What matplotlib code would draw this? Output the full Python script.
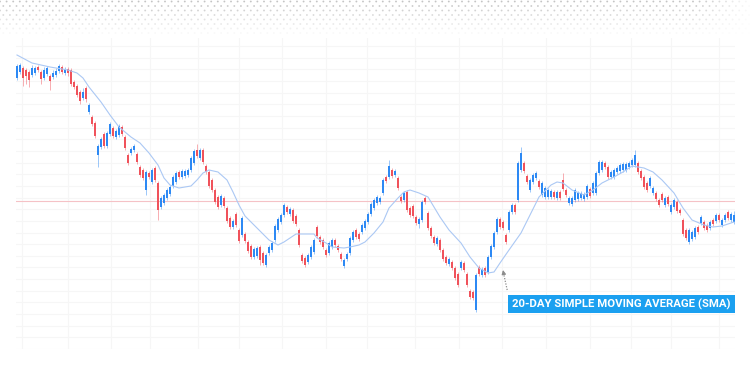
import matplotlib.pyplot as plt
import numpy as np
from matplotlib.patches import Rectangle

# daily candles (price units), 240 sessions
opens = [
    52.2, 52.8, 53.2, 53.0, 52.8, 52.5, 52.7, 53.3, 52.8, 52.2, 52.6, 52.4,
    52.3, 52.5, 52.9, 53.3, 52.7, 53.1, 53.0, 51.8, 51.4, 50.8, 50.2, 51.2,
    48.8, 48.3, 47.7, 44.5, 45.3, 46.6, 45.4, 46.6, 47.2, 46.3, 46.5, 47.3,
    46.3, 44.5, 44.7, 45.0, 44.6, 43.3, 43.0, 41.0, 42.7, 41.8, 43.2, 41.7,
    39.3, 39.7, 40.2, 40.6, 41.4, 41.8, 42.8, 42.3, 42.4, 42.5, 43.0, 43.7,
    45.0, 44.2, 45.0, 43.4, 42.8, 42.0, 41.0, 40.3, 39.5, 40.2, 39.2, 38.2,
    37.3, 38.6, 37.0, 36.5, 36.6, 35.8, 35.4, 34.3, 34.4, 35.3, 34.7, 33.5,
    34.7, 35.0, 36.0, 37.0, 37.8, 38.5, 39.3, 38.6, 39.0, 38.4, 37.0, 34.5,
    34.2, 33.8, 34.3, 34.8, 37.3, 36.3, 36.0, 35.0, 34.7, 35.3, 36.0, 35.4,
    34.6, 33.4, 34.1, 34.7, 36.0, 37.0, 36.6, 36.8, 37.2, 37.8, 38.6, 39.2,
    39.7, 39.8, 40.7, 42.3, 42.3, 43.0, 42.5, 42.2, 40.3, 40.0, 40.8, 39.2,
    39.4, 38.3, 37.6, 38.0, 40.2, 38.7, 37.2, 36.3, 35.6, 36.0, 35.0, 34.3,
    33.6, 33.8, 33.2, 32.6, 33.2, 33.7, 32.6, 30.9, 30.8, 29.0, 33.3, 32.5,
    33.2, 32.8, 34.3, 35.3, 36.8, 38.1, 37.8, 36.5, 37.0, 38.8, 39.5, 40.0,
    43.0, 43.7, 42.4, 41.0, 41.8, 42.2, 41.9, 40.5, 40.3, 40.3, 40.3, 40.8,
    40.2, 40.8, 42.0, 41.0, 39.7, 39.6, 40.0, 40.1, 40.2, 40.1, 40.3, 41.1,
    40.7, 40.7, 42.7, 43.0, 43.7, 43.3, 42.3, 42.3, 42.8, 42.9, 43.0, 43.0,
    43.3, 43.5, 43.5, 43.7, 42.9, 42.3, 41.7, 41.4, 40.7, 40.7, 40.0, 40.6,
    39.5, 40.3, 38.8, 39.3, 39.8, 39.0, 38.0, 37.0, 35.8, 36.1, 36.3, 37.3,
    37.7, 37.8, 37.5, 37.2, 38.0, 37.9, 38.5, 37.5, 38.0, 38.8, 38.0, 37.8,
]
highs = [
    53.6, 53.7, 53.4, 53.2, 53.0, 53.5, 53.4, 53.5, 53.0, 53.3, 53.4, 52.6,
    53.0, 53.2, 53.6, 53.5, 53.3, 53.3, 53.2, 52.0, 51.6, 51.0, 51.2, 51.4,
    49.7, 48.5, 47.9, 45.6, 46.3, 46.8, 46.9, 47.8, 47.4, 47.1, 47.6, 47.5,
    46.5, 44.7, 45.3, 45.6, 44.8, 43.5, 43.2, 43.0, 42.9, 43.2, 43.4, 41.9,
    40.4, 40.7, 41.2, 41.5, 42.5, 42.9, 43.0, 43.1, 43.1, 43.2, 44.4, 45.1,
    45.6, 45.2, 45.2, 43.6, 43.0, 42.2, 41.2, 40.5, 40.6, 40.4, 39.4, 38.4,
    38.1, 38.8, 37.2, 38.4, 36.8, 36.0, 35.6, 35.3, 35.4, 35.5, 34.9, 34.7,
    35.5, 35.9, 37.6, 38.3, 38.7, 39.7, 39.5, 39.3, 39.2, 38.6, 37.2, 34.7,
    34.4, 34.7, 35.5, 36.2, 37.5, 36.5, 36.2, 35.2, 35.9, 36.2, 36.2, 35.6,
    34.8, 34.2, 34.8, 36.4, 37.0, 37.2, 36.8, 37.7, 38.1, 38.8, 39.8, 40.2,
    40.5, 40.4, 42.2, 42.5, 44.0, 43.2, 43.1, 42.4, 40.5, 40.9, 41.0, 39.4,
    39.6, 38.5, 38.3, 40.0, 40.4, 38.9, 37.4, 36.5, 36.4, 36.2, 35.2, 34.5,
    34.3, 34.0, 33.4, 32.8, 34.0, 33.9, 32.8, 31.1, 31.0, 32.7, 33.5, 33.3,
    33.4, 34.5, 35.6, 36.9, 38.3, 38.3, 38.0, 36.7, 39.0, 39.7, 39.7, 43.9,
    45.3, 43.9, 42.6, 42.2, 42.7, 42.9, 42.1, 41.9, 41.4, 41.2, 41.1, 41.0,
    41.0, 41.0, 42.7, 41.2, 40.4, 40.4, 41.2, 40.9, 40.9, 40.8, 41.6, 41.3,
    41.9, 42.9, 44.0, 44.0, 43.9, 43.5, 43.0, 43.2, 43.4, 43.7, 43.8, 43.8,
    43.9, 44.2, 45.0, 43.9, 43.1, 42.5, 41.9, 42.4, 41.4, 40.9, 40.2, 40.8,
    40.4, 40.5, 39.7, 40.2, 40.0, 39.2, 38.2, 37.2, 37.2, 37.0, 37.4, 37.5,
    38.5, 38.0, 37.7, 38.0, 38.2, 38.7, 38.7, 38.2, 38.7, 39.0, 38.8, 38.9,
]
lows = [
    52.0, 52.6, 51.4, 51.6, 51.3, 52.3, 52.5, 52.8, 51.6, 52.0, 52.4, 51.0,
    52.1, 52.3, 52.7, 52.6, 52.5, 52.4, 51.4, 51.1, 50.3, 49.6, 50.0, 49.8,
    48.6, 47.4, 46.2, 43.3, 45.1, 45.2, 45.2, 46.4, 46.2, 46.1, 46.3, 46.4,
    45.0, 43.5, 44.5, 44.8, 43.6, 42.3, 42.0, 40.5, 42.1, 41.6, 41.8, 38.0,
    39.1, 39.5, 40.0, 40.4, 41.2, 41.6, 42.1, 42.1, 42.2, 42.3, 42.8, 43.5,
    44.2, 44.0, 43.6, 42.6, 41.2, 40.8, 39.6, 39.1, 39.3, 39.2, 37.7, 37.1,
    37.1, 37.3, 35.7, 36.3, 35.7, 34.7, 34.1, 34.1, 34.2, 33.5, 33.5, 33.3,
    34.5, 34.8, 35.8, 36.8, 37.6, 38.3, 38.6, 38.4, 37.7, 37.4, 35.3, 33.7,
    33.3, 33.6, 34.1, 34.6, 36.2, 35.6, 35.1, 34.3, 34.5, 35.1, 35.3, 34.8,
    33.9, 33.2, 33.9, 34.5, 35.8, 36.1, 35.9, 36.6, 37.0, 37.6, 38.4, 39.0,
    39.5, 39.6, 40.5, 41.7, 42.1, 42.2, 42.3, 41.0, 39.7, 39.8, 38.8, 38.3,
    38.2, 37.5, 37.2, 37.8, 39.6, 37.0, 36.2, 35.5, 35.4, 34.8, 33.9, 33.5,
    33.4, 33.0, 32.0, 31.3, 33.0, 32.8, 31.3, 30.1, 30.0, 28.8, 32.4, 32.3,
    32.3, 32.6, 34.1, 35.1, 36.6, 37.1, 37.0, 35.6, 36.8, 38.6, 38.6, 39.8,
    42.8, 42.7, 41.6, 40.8, 41.6, 42.0, 41.1, 40.3, 40.1, 40.1, 40.1, 40.1,
    40.0, 40.0, 40.9, 40.3, 39.5, 39.4, 39.8, 39.9, 40.0, 39.9, 40.1, 40.2,
    40.5, 40.5, 42.5, 42.8, 43.1, 42.1, 42.1, 42.1, 42.6, 42.7, 42.8, 42.8,
    43.1, 43.3, 43.3, 42.6, 42.0, 41.1, 40.8, 41.2, 40.5, 39.9, 39.3, 39.8,
    39.3, 39.4, 38.6, 39.1, 38.7, 38.5, 36.4, 36.0, 35.6, 35.9, 36.1, 36.6,
    37.5, 37.0, 36.8, 37.0, 37.4, 37.7, 37.8, 37.3, 37.8, 38.0, 37.8, 37.6,
]
closes = [
    53.4, 53.5, 52.2, 52.4, 52.0, 53.2, 53.2, 53.0, 52.1, 53.0, 53.2, 51.9,
    52.7, 52.9, 53.4, 52.8, 53.1, 52.7, 51.6, 51.3, 50.5, 49.9, 50.8, 50.1,
    49.5, 47.6, 46.4, 45.4, 46.1, 45.4, 46.7, 47.6, 46.4, 46.9, 47.4, 46.6,
    45.2, 43.7, 45.1, 45.4, 43.8, 42.5, 42.2, 42.8, 42.3, 43.0, 42.0, 39.0,
    40.2, 40.5, 41.0, 41.3, 42.3, 42.7, 42.3, 42.9, 42.9, 43.0, 44.2, 44.9,
    44.4, 45.0, 43.8, 42.8, 41.4, 41.0, 39.8, 39.3, 40.4, 39.4, 37.9, 37.3,
    37.9, 37.5, 35.9, 38.2, 35.9, 34.9, 34.3, 35.1, 35.2, 34.0, 33.7, 34.5,
    35.3, 35.7, 37.4, 38.1, 38.5, 39.5, 38.8, 39.1, 37.9, 37.6, 35.5, 33.9,
    33.5, 34.5, 35.3, 36.0, 36.4, 35.8, 35.3, 34.5, 35.7, 36.0, 35.5, 35.0,
    34.1, 34.0, 34.6, 36.2, 36.8, 36.3, 36.1, 37.5, 37.9, 38.6, 39.6, 40.0,
    40.3, 40.2, 42.0, 41.9, 43.4, 42.4, 42.9, 41.2, 39.9, 40.7, 39.0, 38.5,
    38.4, 37.7, 38.1, 39.8, 39.8, 37.2, 36.4, 35.7, 36.2, 35.0, 34.1, 33.7,
    34.1, 33.2, 32.2, 31.5, 33.8, 33.0, 31.5, 30.3, 30.2, 32.5, 32.6, 33.1,
    32.5, 34.3, 35.4, 36.7, 38.1, 37.3, 37.2, 35.8, 38.8, 39.5, 38.8, 43.7,
    44.7, 42.9, 41.8, 42.0, 42.5, 42.7, 41.3, 41.7, 41.2, 41.0, 40.9, 40.3,
    40.8, 40.2, 41.1, 40.5, 40.2, 40.2, 41.0, 40.7, 40.7, 40.6, 41.4, 40.4,
    41.7, 42.7, 43.8, 43.8, 43.3, 42.3, 42.8, 43.0, 43.2, 43.5, 43.6, 43.6,
    43.7, 44.0, 44.5, 42.8, 42.2, 41.3, 41.0, 42.2, 41.2, 40.1, 39.5, 40.0,
    40.2, 39.6, 39.5, 40.0, 38.9, 38.7, 36.6, 36.2, 37.0, 36.8, 37.2, 36.8,
    38.3, 37.2, 37.0, 37.8, 37.6, 38.5, 38.0, 38.0, 38.5, 38.2, 38.6, 38.5,
]

# 20-day SMA, sampled along the curve (day index, price)
sma_days = [0, 5, 11, 17, 20, 22, 24, 28, 31, 34, 38, 41, 44, 47, 49, 51, 54,
            58, 60, 62, 64, 67, 70, 72, 74, 76, 78, 81, 84, 87, 89, 91, 93, 96,
            99, 100, 103, 105, 109, 111, 114, 116, 119, 122, 124, 127, 129, 131,
            134, 137, 139, 141, 144, 148, 151, 154, 157, 159, 161, 164, 168, 171,
            174, 178, 180, 182, 185, 189, 192, 195, 199, 202, 205, 209, 212, 215,
            219, 222, 225, 229, 232, 235, 239]
sma_values = [54.5, 53.7, 53.3, 53.0, 52.7, 52.2, 51.3, 49.8, 48.5, 47.3, 46.3,
              45.7, 44.7, 43.5, 42.2, 41.5, 41.2, 41.4, 42.0, 42.7, 43.0, 42.8,
              42.0, 40.8, 39.5, 38.4, 37.8, 36.9, 36.0, 35.5, 35.8, 36.2, 36.6,
              36.6, 36.6, 36.2, 35.7, 35.3, 35.2, 35.3, 35.5, 35.8, 36.7, 37.8,
              39.2, 40.2, 40.8, 41.0, 40.7, 40.3, 39.3, 38.3, 37.0, 35.7, 34.3,
              33.2, 32.7, 32.8, 33.7, 35.0, 36.7, 38.5, 40.3, 41.5, 41.8, 41.7,
              41.0, 40.5, 41.0, 41.7, 42.3, 42.8, 43.4, 43.2, 42.8, 42.0, 40.7,
              39.2, 38.0, 37.5, 37.3, 37.4, 37.8]

last_price = 39.9
label_text = "20-DAY SIMPLE MOVING AVERAGE (SMA)"

UP = "#2d89f4"
DOWN = "#f0525b"
SMA_COLOR = "#abc8f4"
GRID = "#f6f6f6"
LABEL_BG = "#1ba0f0"

fig = plt.figure(figsize=(7.5, 3.75), dpi=100)

# dotted texture fading out along the top edge (pixel coords)
bg = fig.add_axes([0, 0, 1, 1])
bg.set_xlim(0, 750)
bg.set_ylim(375, 0)
bg.axis("off")
dot_x, dot_y, dot_rgba = [], [], []
for row, yy in enumerate(np.arange(1.5, 36, 4.5)):
    shift = 3.3 if row % 2 else 0.0
    for xx in np.arange(shift, 752, 6.6):
        fade = (1 - yy / 37) * min(1.0, (755 - xx) / 60)
        dot_x.append(xx)
        dot_y.append(yy)
        dot_rgba.append((0.7, 0.7, 0.7, max(fade, 0) * 0.8))
bg.scatter(dot_x, dot_y, s=1.8, c=dot_rgba, linewidths=0)

ax = fig.add_axes([16 / 750, 26 / 375, 719 / 750, 311 / 375])
ax.set_xlim(-0.33, 239.33)
ax.set_ylim(25.1, 56.2)
ax.axis("off")

for p in 25.1 + 1.165 * np.arange(27):
    ax.axhline(p, color=GRID, lw=0.8, zorder=0)
for d in [1.7, 17, 31.3, 44.3, 60.3, 74, 88.3, 103, 116.7, 132.7, 147.3,
          161.7, 176.3, 191, 204.7, 218, 234]:
    ax.axvline(d, color=GRID, lw=0.8, zorder=0)
ax.axhline(last_price, color="#f5c2c6", lw=0.8, zorder=0.5)

o = np.array(opens)
h = np.array(highs)
lo = np.array(lows)
c = np.array(closes)
days = np.arange(len(o))
colors = np.where(c >= o, UP, DOWN)

ax.vlines(days, lo, h, colors=colors, lw=0.6, alpha=0.55, zorder=2)
ax.bar(days, np.maximum(np.abs(c - o), 0.08), bottom=np.minimum(o, c),
       width=0.5, color=colors, linewidth=0, zorder=3)

ax.plot(sma_days, sma_values, color=SMA_COLOR, lw=0.8, zorder=4)

# label + dotted pointer up to the SMA
ax.plot([163.4, 162.3], [31.0, 32.5], color="#8c8c8c", lw=0.9,
        linestyle=(0, (1, 1.2)), zorder=5)
ax.annotate("", xy=(162.0, 33.0), xytext=(162.3, 32.5),
            arrowprops=dict(arrowstyle="-|>", color="#8c8c8c", lw=0.8,
                            mutation_scale=6), zorder=5)
ax.add_patch(Rectangle((163.7, 28.7), 75.6, 1.8, facecolor=LABEL_BG,
                       edgecolor="none", zorder=6))
ax.text(201.5, 29.58, label_text, ha="center", va="center", color="white",
        fontsize=8.2, fontweight="bold", family=["Roboto", "DejaVu Sans"],
        zorder=7)

fig.savefig("out.png", dpi=100)
